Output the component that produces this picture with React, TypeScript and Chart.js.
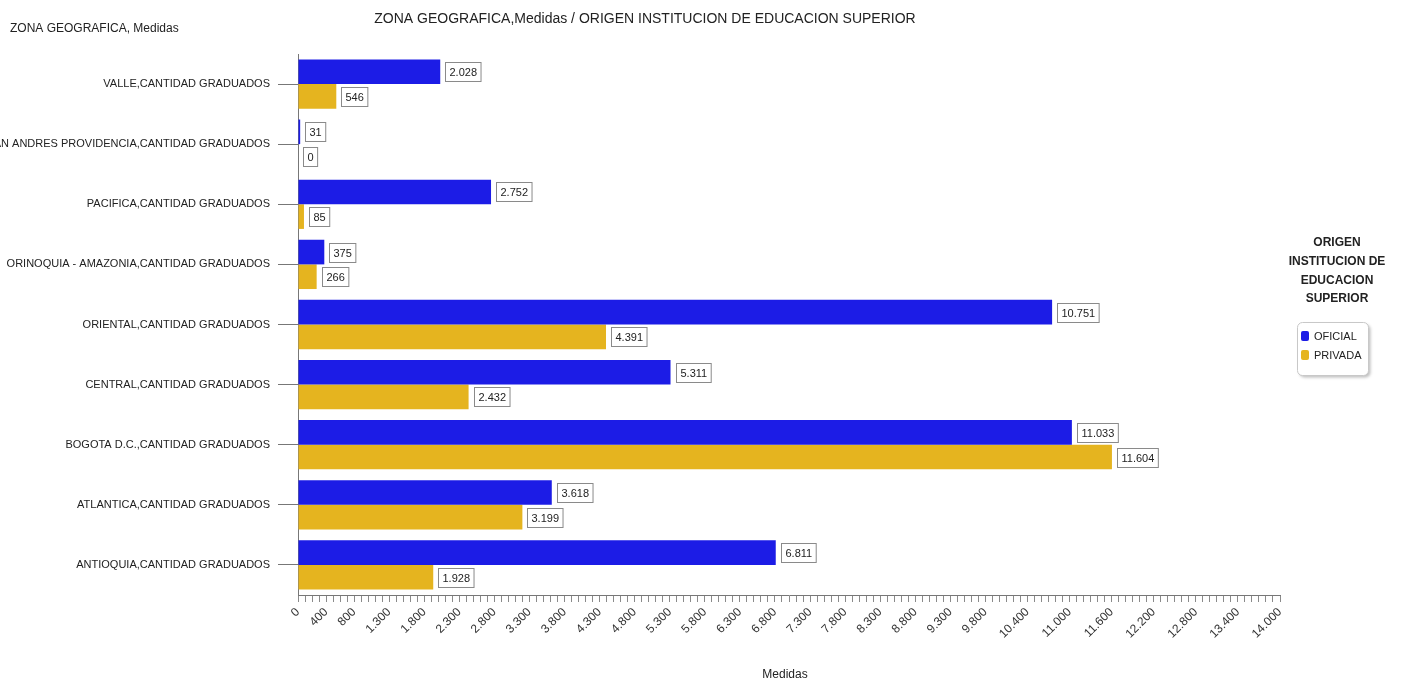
import React, { useEffect, useRef } from 'react';
import { Chart, registerables } from 'chart.js';

Chart.register(...registerables);

const categories = [
  'VALLE,CANTIDAD GRADUADOS',
  'SAN ANDRES PROVIDENCIA,CANTIDAD GRADUADOS',
  'PACIFICA,CANTIDAD GRADUADOS',
  'ORINOQUIA - AMAZONIA,CANTIDAD GRADUADOS',
  'ORIENTAL,CANTIDAD GRADUADOS',
  'CENTRAL,CANTIDAD GRADUADOS',
  'BOGOTA D.C.,CANTIDAD GRADUADOS',
  'ATLANTICA,CANTIDAD GRADUADOS',
  'ANTIOQUIA,CANTIDAD GRADUADOS',
];
const oficial = [2028, 31, 2752, 375, 10751, 5311, 11033, 3618, 6811];
const privada = [546, 0, 85, 266, 4391, 2432, 11604, 3199, 1928];
const seriesNames = ['OFICIAL', 'PRIVADA'];
const seriesColors = ['#1c1ce6', '#e5b41f'];
const xTickLabels = [
  0, 400, 800, 1300, 1800, 2300, 2800, 3300, 3800, 4300, 4800, 5300, 5800, 6300,
  6800, 7300, 7800, 8300, 8800, 9300, 9800, 10400, 11000, 11600, 12200, 12800, 13400, 14000,
];
const xMin = 0;
const xMax = 14000;
const minorStep = 100;

const chartTitle = 'ZONA GEOGRAFICA,Medidas / ORIGEN INSTITUCION DE EDUCACION SUPERIOR';
const yAxisTitle = 'ZONA GEOGRAFICA, Medidas';
const xAxisTitle = 'Medidas';
const legendTitle = ['ORIGEN', 'INSTITUCION DE', 'EDUCACION', 'SUPERIOR'];

const FONT = "'Liberation Sans', Arial, sans-serif";

function fmt(n: number): string {
  return String(n).replace(/\B(?=(\d{3})+(?!\d))/g, '.');
}

const labelSet = new Set(xTickLabels);

const extrasPlugin = {
  id: 'extras',
  afterDatasetsDraw(chart: any) {
    const ctx = chart.ctx;
    ctx.save();
    ctx.font = `11px ${FONT}`;
    ctx.textBaseline = 'middle';
    ctx.textAlign = 'left';
    chart.data.datasets.forEach((ds: any, di: number) => {
      const meta = chart.getDatasetMeta(di);
      meta.data.forEach((bar: any, i: number) => {
        const txt = fmt(ds.data[i]);
        const w = ctx.measureText(txt).width + 8;
        const h = 19;
        const bx = Math.round(bar.x + 5) + 0.5;
        const by = Math.round(bar.y - h / 2) + 0.5;
        ctx.fillStyle = '#ffffff';
        ctx.fillRect(bx, by, w, h);
        ctx.strokeStyle = '#8a8a8a';
        ctx.lineWidth = 1;
        ctx.strokeRect(bx, by, w, h);
        ctx.fillStyle = '#222';
        ctx.fillText(txt, bx + 4, by + h / 2 + 0.5);
      });
    });
    ctx.restore();
  },
  afterDraw(chart: any) {
    const ctx = chart.ctx;
    const area = chart.chartArea;
    ctx.save();
    ctx.fillStyle = '#222';
    ctx.textBaseline = 'middle';
    // main title
    ctx.font = `14px ${FONT}`;
    ctx.textAlign = 'center';
    ctx.fillText(chartTitle, 645, 19);
    // y axis title
    ctx.font = `12px ${FONT}`;
    ctx.textAlign = 'left';
    ctx.fillText(yAxisTitle, 10, 29);
    // x axis title
    ctx.textAlign = 'center';
    ctx.fillText(xAxisTitle, (area.left + area.right) / 2 - 4, 675);
    // legend title
    ctx.font = `bold 12px ${FONT}`;
    legendTitle.forEach((line, i) => {
      ctx.fillText(line, 1337, 243 + i * 18.7);
    });
    // legend box
    const lx = 1297.5, ly = 322.5, lw = 71, lh = 53, r = 5;
    ctx.save();
    ctx.shadowColor = 'rgba(0,0,0,0.25)';
    ctx.shadowOffsetX = 2;
    ctx.shadowOffsetY = 2;
    ctx.shadowBlur = 3;
    ctx.beginPath();
    ctx.roundRect(lx, ly, lw, lh, r);
    ctx.fillStyle = '#ffffff';
    ctx.fill();
    ctx.restore();
    ctx.beginPath();
    ctx.roundRect(lx, ly, lw, lh, r);
    ctx.strokeStyle = '#c8c8c8';
    ctx.lineWidth = 1;
    ctx.stroke();
    seriesNames.forEach((name, i) => {
      const cy = 336 + i * 19;
      ctx.beginPath();
      ctx.roundRect(1301, cy - 5, 8, 10, 2);
      ctx.fillStyle = seriesColors[i];
      ctx.fill();
      ctx.fillStyle = '#222';
      ctx.font = `11px ${FONT}`;
      ctx.textAlign = 'left';
      ctx.fillText(name, 1314, cy + 0.5);
    });
    ctx.restore();
  },
};

export default function App() {
  const ref = useRef<HTMLCanvasElement>(null);
  useEffect(() => {
    document.body.style.margin = '0';
    const canvas = ref.current;
    if (!canvas) return;
    const minorTicks: number[] = [];
    for (let v = xMin; v <= xMax; v += minorStep) minorTicks.push(v);
    const chart = new Chart(canvas, {
      type: 'bar',
      data: {
        labels: categories,
        datasets: [
          {
            label: seriesNames[0],
            data: oficial,
            backgroundColor: seriesColors[0],
            borderWidth: 0,
            barPercentage: 1,
            categoryPercentage: 0.82,
          },
          {
            label: seriesNames[1],
            data: privada,
            backgroundColor: seriesColors[1],
            borderWidth: 0,
            barPercentage: 1,
            categoryPercentage: 0.82,
          },
        ],
      },
      options: {
        indexAxis: 'y',
        responsive: false,
        animation: false,
        layout: { padding: { top: 54, right: 140, left: 0, bottom: 0 } },
        plugins: {
          legend: { display: false },
          title: { display: false },
          tooltip: { enabled: false },
        },
        scales: {
          x: {
            type: 'linear',
            min: xMin,
            max: xMax,
            afterBuildTicks: (s: any) => {
              s.ticks = minorTicks.map((v) => ({ value: v }));
            },
            afterFit: (s: any) => {
              s.height = 89;
            },
            ticks: {
              autoSkip: false,
              minRotation: 45,
              maxRotation: 45,
              padding: 3,
              color: '#333',
              font: { family: FONT, size: 12 },
              callback: (v: any) => (labelSet.has(Number(v)) ? fmt(Number(v)) : ''),
            },
            grid: { drawOnChartArea: false, tickLength: 7, color: '#8a8a8a', offset: false },
            border: { display: true, color: '#777' },
          },
          y: {
            afterFit: (s: any) => {
              s.width = 298;
            },
            ticks: {
              color: '#222',
              padding: 8,
              font: { family: FONT, size: 11 },
            },
            grid: { drawOnChartArea: false, tickLength: 20, color: '#777', offset: false },
            border: { display: true, color: '#777' },
          },
        },
      },
      plugins: [extrasPlugin],
    } as any);
    return () => chart.destroy();
  }, []);
  return (
    <div style={{ width: 1420, height: 684 }}>
      <canvas ref={ref} width={1420} height={684} />
    </div>
  );
}
